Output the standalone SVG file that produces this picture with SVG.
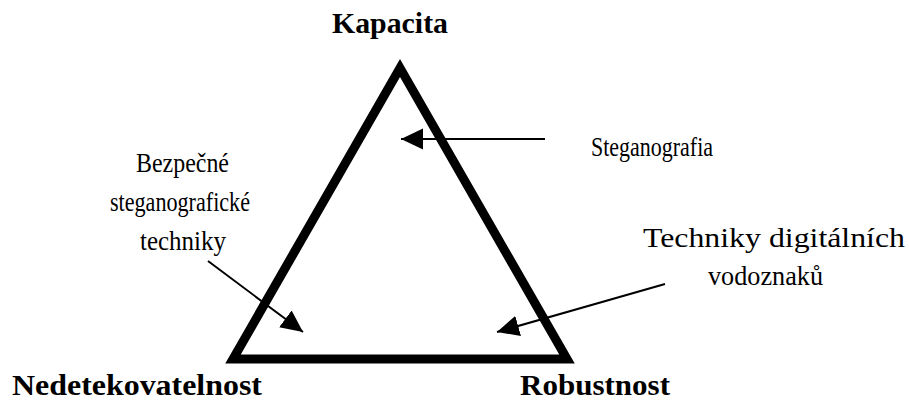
<svg xmlns="http://www.w3.org/2000/svg" width="909" height="401" viewBox="0 0 909 401">
<style>
.bold{font-family:"Liberation Serif","Times New Roman",serif;font-weight:bold;font-size:30px;fill:#000}
.reg{font-family:"Liberation Serif","Times New Roman",serif;font-size:28px;fill:#000}
.conn{stroke:#000;stroke-width:2;fill:none}
</style>
<defs>
<marker id="ah" markerUnits="userSpaceOnUse" markerWidth="22" markerHeight="22" viewBox="0 0 21 20" refX="21" refY="10" orient="auto">
<path d="M0,0 L21,10 L0,20 z" fill="#000"/>
</marker>
</defs>
<rect width="909" height="401" fill="#fff"/>
<g id="triangle">
<polygon points="400,68 233,359 567,359" fill="none" stroke="#000" stroke-width="9" stroke-linejoin="miter"/>
</g>
<g id="kapacita"><text class="bold" x="332" y="33" textLength="116" lengthAdjust="spacingAndGlyphs">Kapacita</text></g>
<g id="nedetekovatelnost"><text class="bold" x="12" y="395" textLength="250" lengthAdjust="spacingAndGlyphs">Nedetekovatelnost</text></g>
<g id="robustnost"><text class="bold" x="520" y="395" textLength="150" lengthAdjust="spacingAndGlyphs">Robustnost</text></g>
<g id="steganografia"><text class="reg" x="591" y="156" textLength="122" lengthAdjust="spacingAndGlyphs">Steganografia</text></g>
<g id="bezpecne">
<text class="reg" x="136" y="172" textLength="93" lengthAdjust="spacingAndGlyphs">Bezpečné</text>
<text class="reg" x="110" y="211" textLength="140" lengthAdjust="spacingAndGlyphs">steganografické</text>
<text class="reg" x="140" y="250" textLength="86" lengthAdjust="spacingAndGlyphs">techniky</text>
</g>
<g id="vodoznaky">
<text class="reg" x="643" y="247" textLength="262" lengthAdjust="spacingAndGlyphs">Techniky digitálních</text>
<text class="reg" x="708" y="285" textLength="115" lengthAdjust="spacingAndGlyphs">vodoznaků</text>
</g>
<g id="connectors">
<line class="conn" x1="545" y1="139" x2="401" y2="139" marker-end="url(#ah)"/>
<line class="conn" x1="208" y1="261" x2="303" y2="332" marker-end="url(#ah)"/>
<line class="conn" x1="665" y1="284" x2="497" y2="332" marker-end="url(#ah)"/>
</g>
</svg>
